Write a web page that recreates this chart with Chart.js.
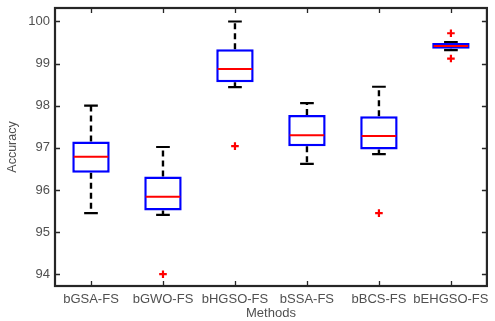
<!DOCTYPE html>
<html>
<head>
<meta charset="utf-8">
<script src="https://cdn.jsdelivr.net/npm/chart.js@4.4.1/dist/chart.umd.min.js"></script>
<style>
  html,body{margin:0;padding:0;background:#fff;}
  #wrap{width:495px;height:321px;position:relative;}
</style>
</head>
<body>
<div id="wrap"><canvas id="c"></canvas></div>
<script>
'use strict';
Chart.defaults.font.family = "'Liberation Sans', Arial, sans-serif";
Chart.defaults.animation = false;

// ── DATA ────────────────────────────────────────────────────────────────────
const methods   = ['bGSA-FS','bGWO-FS','bHGSO-FS','bSSA-FS','bBCS-FS','bEHGSO-FS'];
const whiskLow  = [95.45, 95.41, 98.44, 96.62, 96.85, 99.32];
const q1        = [96.41, 95.51, 98.56, 97.04, 96.96, 99.35];
const median    = [96.79, 95.84, 98.87, 97.30, 97.28, 99.42];
const q3        = [97.15, 96.32, 99.34, 97.78, 97.75, 99.49];
const whiskHigh = [98.00, 97.02, 100.00, 98.06, 98.45, 99.51];
const outliers  = [[], [94.00], [97.04], [], [95.45], [99.72, 99.12]];
const yTicks    = [94, 95, 96, 97, 98, 99, 100];

const BOX_W = 0.52, CAP_W = 0.19;
const INK = '#262626', TXT = '#505050';

// segments helper: list of [x0,y0,x1,y1] → line data with null gaps
function segs(list){
  const out=[];
  list.forEach(s=>{out.push({x:s[0],y:s[1]},{x:s[2],y:s[3]},{x:s[2],y:null});});
  return out;
}

const xs = methods.map((m,i)=>i+1);
const whiskerData = segs(xs.flatMap((x,i)=>[[x,q3[i],x,whiskHigh[i]],[x,q1[i],x,whiskLow[i]]]));
const capData = segs(xs.flatMap((x,i)=>[[x-CAP_W/2,whiskHigh[i],x+CAP_W/2,whiskHigh[i]],[x-CAP_W/2,whiskLow[i],x+CAP_W/2,whiskLow[i]]]));
const medData = segs(xs.map((x,i)=>[x-BOX_W/2+0.02,median[i],x+BOX_W/2-0.02,median[i]]));
const boxData = xs.map((x,i)=>({x, y:[q1[i], q3[i]]}));
const outData = xs.flatMap((x,i)=>outliers[i].map(v=>({x, y:v})));

// inward ticks + box frame, like MATLAB axes
const framePlugin = {
  id:'frame',
  afterDatasetsDraw(chart){
    const {ctx, chartArea:a, scales:{x,y}} = chart;
    ctx.save();
    ctx.strokeStyle = INK; ctx.lineWidth = 1.3;
    ctx.beginPath();
    yTicks.forEach(v=>{const p=Math.round(y.getPixelForValue(v))+0.5;
      ctx.moveTo(a.left,p);ctx.lineTo(a.left+5,p);ctx.moveTo(a.right,p);ctx.lineTo(a.right-5,p);});
    xs.forEach(v=>{const p=Math.round(x.getPixelForValue(v))+0.5;
      ctx.moveTo(p,a.bottom);ctx.lineTo(p,a.bottom-5);ctx.moveTo(p,a.top);ctx.lineTo(p,a.top+5);});
    ctx.stroke();
    ctx.lineWidth = 2.2;
    ctx.strokeRect(a.left, a.top, a.right-a.left, a.bottom-a.top);
    ctx.restore();
  }
};

new Chart(document.getElementById('c'), {
  type:'bar',
  data:{datasets:[
    {type:'line', label:'whiskers', data:whiskerData, borderColor:'#000', borderWidth:2.4, borderDash:[6,4], pointRadius:0, spanGaps:false, order:3},
    {type:'line', label:'caps', data:capData, borderColor:'#000', borderWidth:2.2, pointRadius:0, spanGaps:false, order:2},
    {type:'bar', label:'boxes', data:boxData, backgroundColor:'#fff', borderColor:'#0000ff', borderWidth:2.5, borderSkipped:false,
      barPercentage:BOX_W, categoryPercentage:1, order:1},
    {type:'line', label:'median', data:medData, borderColor:'#ff0000', borderWidth:2, pointRadius:0, spanGaps:false, order:0},
    {type:'scatter', label:'outliers', data:outData, pointStyle:'cross', pointRadius:3.8, borderColor:'#ff0000', backgroundColor:'#ff0000', pointBorderWidth:2.2, order:0}
  ]},
  options:{
    responsive:true, maintainAspectRatio:false,
    layout:{padding:{left:1, top:8, right:4, bottom:0}},
    plugins:{legend:{display:false}, tooltip:{enabled:false}},
    scales:{
      x:{type:'linear', min:0.5, max:6.5, offset:false,
        afterBuildTicks:s=>{s.ticks=xs.map(v=>({value:v}));},
        afterFit:s=>{s.height=35;},
        ticks:{color:TXT, font:{size:13}, padding:6, maxRotation:0, autoSkip:false, callback:v=>methods[v-1]},
        grid:{display:false, drawTicks:false}, border:{display:false},
        title:{display:true, text:'Methods', color:TXT, font:{size:13}, padding:{top:0,bottom:0}}},
      y:{min:93.72, max:100.32,
        afterBuildTicks:s=>{s.ticks=yTicks.map(v=>({value:v}));},
        afterFit:s=>{s.width=54; s.paddingTop=0; s.paddingBottom=0;},
        ticks:{color:TXT, font:{size:13}, padding:5},
        grid:{display:false, drawTicks:false}, border:{display:false},
        title:{display:true, text:'Accuracy', color:TXT, font:{size:12.5}, padding:{top:4,bottom:2}}}
    }
  },
  plugins:[framePlugin]
});
</script>
</body>
</html>
